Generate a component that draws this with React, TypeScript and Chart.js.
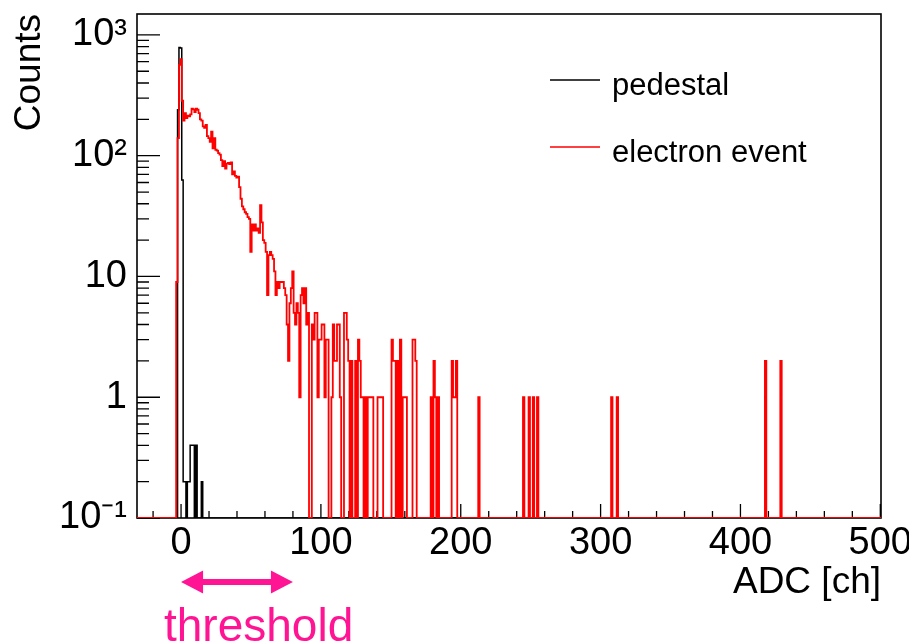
import React, { useEffect, useRef } from 'react';
import { Chart, registerables } from 'chart.js';

Chart.register(...registerables);

// ---- axis ranges / tick labels ----
const X_MIN = -31.5;
const X_MAX = 500.5;
const Y_MIN = 0.1;
const Y_MAX = 1490;
const xTickValues = [0, 100, 200, 300, 400, 500];
const xTickLabels = ['0', '100', '200', '300', '400', '500'];
const yTickValues = [0.1, 1, 10, 100, 1000];
const yTickLabels = ['10\u207B\u00B9', '1', '10', '10\u00B2', '10\u00B3'];

// ---- electron event histogram (1 ADC channel bins) ----
const electronFirstBin = -3;
const electronCounts = [
  9, 140, 565, 630, 285, 195, 225, 205, 215, 212, 220, 245, 242, 230, 245, 240,
  225, 200, 195, 175, 170, 180, 145, 140, 130, 158, 115, 140, 112, 110, 105, 102,
  92, 82, 90, 78, 86, 87, 85, 88, 70, 74, 68, 66, 67, 55, 44, 38,
  36, 34, 33, 31, 30, 16, 27, 24, 27, 24, 25, 23, 39, 28, 20, 19,
  16, 7, 15, 16, 15, 14, 11, 7, 9, 8, 9, 9, 9, 8, 7, 4,
  2, 6, 8, 11, 5, 4, 6, 5, 1, 7, 8, 6, 8, 4, 5, 0,
  0, 4, 3, 5, 5, 1, 3, 3, 4, 4, 1, 3, 3, 0, 0, 1,
  4, 2, 2, 4, 4, 1, 0, 0, 5, 5, 3, 2, 0, 2, 0, 0,
  2, 0, 3, 2, 1, 1, 0, 1, 0, 1, 1, 1, 1, 0, 0, 0,
  1, 1, 1, 1, 0, 0, 0, 0, 0, 0, 3, 2, 2, 0, 2, 0,
  3, 0, 1, 1, 1, 0, 0, 0, 0, 3, 3, 2,
];
const electronTailBins = [179, 181, 182, 184, 194, 195, 196, 197, 213, 245, 249, 252, 255, 308, 312, 418, 429];
const electronTailCounts = [1, 2, 1, 1, 2, 1, 1, 2, 1, 1, 1, 1, 1, 1, 1, 2, 2];

// ---- pedestal histogram (scaled) ----
const pedestalFirstBin = -2;
const pedestalCounts = [240, 785, 780, 63, 0.2, 0.2, 0, 0.2, 0.2, 0.4, 0.4, 0.4, 0, 0.4, 0, 0, 0, 0.2];

// ---- annotations ----
const thresholdRange = [0, 80];
const thresholdText = 'threshold';
const legendLabels = ['pedestal', 'electron event'];
const xTitle = 'ADC [ch]';
const yTitle = 'Counts';

const FONT = "'Liberation Sans', Arial, Helvetica, sans-serif";
const PINK = '#ff1493';

function buildHistogram(firstBin: number, counts: number[], tailBins: number[] = [], tailCounts: number[] = []) {
  const lo = Math.round(X_MIN + 0.5);
  const hi = Math.round(X_MAX - 0.5);
  const vals = new Map<number, number>();
  counts.forEach((c, i) => vals.set(firstBin + i, c));
  tailBins.forEach((b, i) => vals.set(b, tailCounts[i]));
  const pts: { x: number; y: number }[] = [];
  let last = Y_MIN;
  for (let b = lo; b <= hi; b++) {
    const v = vals.get(b) || 0;
    last = v > 0 ? v : Y_MIN;
    pts.push({ x: b - 0.5, y: last });
  }
  pts.push({ x: hi + 0.5, y: last });
  return pts;
}

const framePlugin = {
  id: 'rootFrame',
  beforeDatasetsDraw(chart: any) {
    const { ctx, chartArea: a, scales } = chart;
    const x = scales.x;
    const y = scales.y;
    ctx.save();
    ctx.strokeStyle = '#000';
    ctx.lineWidth = 1.6;
    ctx.strokeRect(a.left, a.top, a.right - a.left, a.bottom - a.top);
    ctx.lineWidth = 1.3;
    ctx.beginPath();
    for (let v = -20; v <= 500; v += 20) {
      const px = x.getPixelForValue(v);
      const len = v % 100 === 0 ? 14 : 7;
      ctx.moveTo(px, a.bottom);
      ctx.lineTo(px, a.bottom - len);
    }
    for (let e = -1; e <= 3; e++) {
      for (let m = 1; m <= 9; m++) {
        const v = m * Math.pow(10, e);
        if (v < Y_MIN * 0.999 || v > Y_MAX) continue;
        const py = y.getPixelForValue(v);
        const len = m === 1 ? 23 : 12;
        ctx.moveTo(a.left, py);
        ctx.lineTo(a.left + len, py);
      }
    }
    ctx.stroke();
    ctx.restore();
  },
};

const annotationPlugin = {
  id: 'rootAnnotations',
  afterDraw(chart: any) {
    const { ctx } = chart;
    const x = chart.scales.x;
    ctx.save();
    // legend
    const colors = ['#000000', '#ff0000'];
    const rows = [80, 147];
    ctx.font = `31px ${FONT}`;
    ctx.textBaseline = 'alphabetic';
    ctx.textAlign = 'left';
    legendLabels.forEach((lab, i) => {
      ctx.strokeStyle = colors[i];
      ctx.lineWidth = 1.3;
      ctx.beginPath();
      ctx.moveTo(550, rows[i]);
      ctx.lineTo(600, rows[i]);
      ctx.stroke();
      ctx.fillStyle = '#000';
      ctx.fillText(lab, 612, rows[i] + 15);
    });
    // threshold arrow
    const x0 = x.getPixelForValue(thresholdRange[0]);
    const x1 = x.getPixelForValue(thresholdRange[1]);
    const ay = 582;
    const head = 22;
    const hh = 11.5;
    ctx.fillStyle = PINK;
    ctx.strokeStyle = PINK;
    ctx.lineWidth = 6;
    ctx.beginPath();
    ctx.moveTo(x0 + head - 2, ay);
    ctx.lineTo(x1 - head + 2, ay);
    ctx.stroke();
    ctx.beginPath();
    ctx.moveTo(x0, ay);
    ctx.lineTo(x0 + head, ay - hh);
    ctx.lineTo(x0 + head, ay + hh);
    ctx.closePath();
    ctx.fill();
    ctx.beginPath();
    ctx.moveTo(x1, ay);
    ctx.lineTo(x1 - head, ay - hh);
    ctx.lineTo(x1 - head, ay + hh);
    ctx.closePath();
    ctx.fill();
    ctx.font = `46px ${FONT}`;
    ctx.textAlign = 'left';
    ctx.textBaseline = 'alphabetic';
    ctx.fillText(thresholdText, 164, 641);
    ctx.restore();
  },
};

export default function App() {
  const ref = useRef<HTMLCanvasElement | null>(null);
  useEffect(() => {
    if (!ref.current) return;
    const electron = buildHistogram(electronFirstBin, electronCounts, electronTailBins, electronTailCounts);
    const pedestal = buildHistogram(pedestalFirstBin, pedestalCounts);
    const chart = new Chart(ref.current, {
      type: 'line',
      data: {
        datasets: [
          {
            label: legendLabels[1],
            data: electron,
            borderColor: '#ff0000',
            borderWidth: 1.8,
            pointRadius: 0,
            stepped: 'before',
            fill: false,
            tension: 0,
            order: 1,
          },
          {
            label: legendLabels[0],
            data: pedestal,
            borderColor: '#000000',
            borderWidth: 1.5,
            pointRadius: 0,
            stepped: 'before',
            fill: false,
            tension: 0,
            order: 2,
          },
        ],
      },
      options: {
        responsive: false,
        animation: false,
        events: [],
        layout: { padding: { top: 14, right: 28, left: 0, bottom: 0 } },
        plugins: { legend: { display: false }, tooltip: { enabled: false }, title: { display: false } },
        scales: {
          x: {
            type: 'linear',
            position: 'bottom',
            min: X_MIN,
            max: X_MAX,
            afterBuildTicks: (s: any) => {
              s.ticks = xTickValues.map((v) => ({ value: v }));
            },
            afterFit: (s: any) => {
              s.height = 126;
              s.paddingLeft = 0;
              s.paddingRight = 0;
            },
            grid: { display: false, drawTicks: false },
            border: { display: false },
            ticks: {
              autoSkip: false,
              maxRotation: 0,
              minRotation: 0,
              padding: 3,
              color: '#000',
              font: { family: FONT, size: 38 },
              callback: (v: any) => {
                const i = xTickValues.indexOf(Number(v));
                return i >= 0 ? xTickLabels[i] : '';
              },
            },
            title: {
              display: true,
              text: xTitle,
              align: 'end',
              color: '#000',
              font: { family: FONT, size: 37 },
              padding: { top: 0, bottom: 39 },
            },
          },
          y: {
            type: 'logarithmic',
            min: Y_MIN,
            max: Y_MAX,
            afterBuildTicks: (s: any) => {
              s.ticks = yTickValues.map((v) => ({ value: v }));
            },
            afterFit: (s: any) => {
              s.width = 137;
              s.paddingTop = 0;
              s.paddingBottom = 0;
            },
            grid: { display: false, drawTicks: false },
            border: { display: false },
            ticks: {
              autoSkip: false,
              padding: 10,
              color: '#000',
              font: { family: FONT, size: 38 },
              callback: (v: any) => {
                const i = yTickValues.findIndex((t) => Math.abs(t - Number(v)) < t * 1e-6);
                return i >= 0 ? yTickLabels[i] : '';
              },
            },
            title: {
              display: true,
              text: yTitle,
              align: 'end',
              color: '#000',
              font: { family: FONT, size: 37 },
              padding: { top: 8, bottom: 0 },
            },
          },
        },
      },
      plugins: [framePlugin, annotationPlugin],
    } as any);
    return () => chart.destroy();
  }, []);
  return (
    <div style={{ position: 'absolute', left: 0, top: 0, width: 909, height: 644, background: '#fff' }}>
      <canvas ref={ref} width={909} height={644} style={{ display: 'block' }} />
    </div>
  );
}
